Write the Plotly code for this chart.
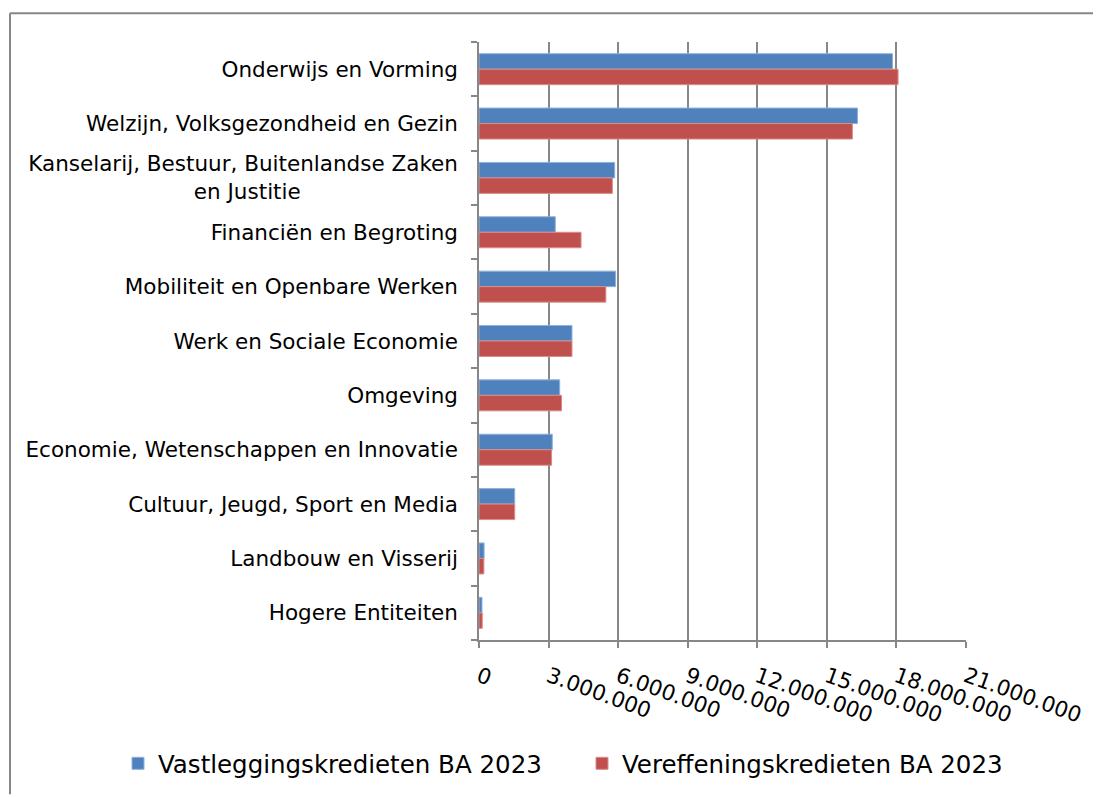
import plotly.graph_objects as go

categories = [
    "Onderwijs en Vorming",
    "Welzijn, Volksgezondheid en Gezin",
    "Kanselarij, Bestuur, Buitenlandse Zaken en Justitie",
    "Financiën en Begroting",
    "Mobiliteit en Openbare Werken",
    "Werk en Sociale Economie",
    "Omgeving",
    "Economie, Wetenschappen en Innovatie",
    "Cultuur, Jeugd, Sport en Media",
    "Landbouw en Visserij",
    "Hogere Entiteiten",
]
tick_labels = [
    "Onderwijs en Vorming",
    "Welzijn, Volksgezondheid en Gezin",
    "Kanselarij, Bestuur, Buitenlandse Zaken<br>en Justitie" + "\u00a0" * 23,
    "Financiën en Begroting",
    "Mobiliteit en Openbare Werken",
    "Werk en Sociale Economie",
    "Omgeving",
    "Economie, Wetenschappen en Innovatie",
    "Cultuur, Jeugd, Sport en Media",
    "Landbouw en Visserij",
    "Hogere Entiteiten",
]
vastlegging = [17830000, 16320000, 5850000, 3290000, 5890000, 4010000,
               3480000, 3160000, 1540000, 220000, 130000]
vereffening = [18070000, 16100000, 5750000, 4400000, 5470000, 4010000,
               3560000, 3130000, 1540000, 210000, 140000]
x_ticks = [0, 3000000, 6000000, 9000000, 12000000, 15000000, 18000000, 21000000]

series_names = ["Vastleggingskredieten BA 2023", "Vereffeningskredieten BA 2023"]
colors = ["#4F81BD", "#C0504D"]
edge = ["#8FB0DC", "#D98C8A"]

fig = go.Figure()
for name, vals, c, e in zip(series_names, [vastlegging, vereffening], colors, edge):
    fig.add_trace(go.Bar(
        y=categories, x=vals, name=name, orientation="h",
        marker=dict(color=c, line=dict(color=e, width=1)),
    ))

OFF = 8  # default page body margin
W, H = 1101 - OFF, 798 - OFF
L, T = 479 - OFF, 42 - OFF
R = W - (966 - OFF)
B = H - (643 - OFF)
pw, ph = W - L - R, H - T - B

def px_x(p):
    return (p - OFF - L) / pw

def px_y(p):
    return (H - B - (p - OFF)) / ph

grid = "#878787"
fsize = 21.5
fig.update_layout(
    width=W, height=H,
    margin=dict(l=L, r=R, t=T, b=B, pad=0),
    paper_bgcolor="white", plot_bgcolor="white",
    barmode="group", bargap=0.43, bargroupgap=0,
    separators=",.",
    font=dict(family="DejaVu Sans", size=fsize, color="#000000"),
    xaxis=dict(
        range=[0, 21000000], tickvals=x_ticks, tickformat=",.0f",
        showgrid=True, gridcolor=grid, gridwidth=1.5,
        showline=True, linecolor=grid, linewidth=1.5,
        ticks="outside", ticklen=6, tickcolor=grid, tickwidth=1.5,
        tickangle=20, zeroline=False,
        tickfont=dict(family="DejaVu Sans", size=fsize),
        ticklabelstandoff=8,
    ),
    yaxis=dict(
        autorange="reversed", type="category",
        tickvals=categories, ticktext=tick_labels,
        tickson="boundaries",
        showline=True, linecolor=grid, linewidth=1.5,
        ticks="outside", ticklen=6, tickcolor=grid, tickwidth=1.5,
        showgrid=False, zeroline=False,
        tickfont=dict(family="DejaVu Sans", size=fsize),
        ticklabelstandoff=15,
    ),
    legend=dict(
        orientation="h",
        x=px_x(118), xanchor="left",
        y=px_y(767), yanchor="middle",
        font=dict(family="DejaVu Sans", size=24.5),
        itemwidth=30, entrywidth=419, entrywidthmode="pixels",
        bgcolor="rgba(0,0,0,0)",
    ),
    shapes=[
        dict(type="line", xref="paper", yref="paper",
             x0=px_x(10), x1=px_x(1101), y0=px_y(13), y1=px_y(13),
             line=dict(color=grid, width=2)),
        dict(type="line", xref="paper", yref="paper",
             x0=px_x(10), x1=px_x(10), y0=px_y(13), y1=px_y(798),
             line=dict(color=grid, width=2)),
    ],
)

fig.write_html("out.html")
